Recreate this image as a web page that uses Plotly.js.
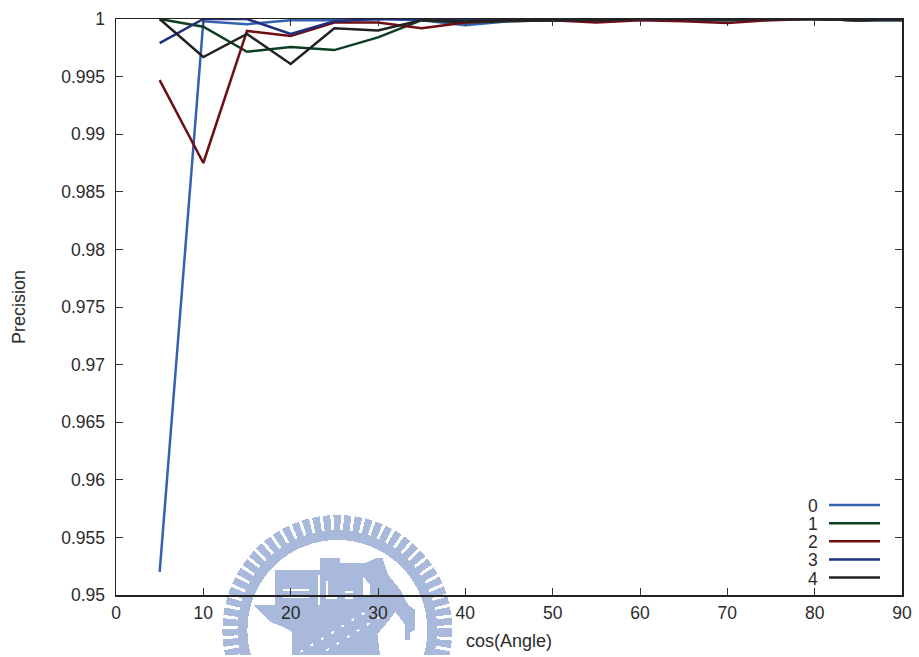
<!DOCTYPE html>
<html>
<head>
<meta charset="utf-8">
<script src="https://cdn.plot.ly/plotly-3.0.1.min.js"></script>
<style>html,body{margin:0;padding:0;background:#fff}</style>
</head>
<body>
<div id="chart" style="width:919px;height:657px"></div>
<script>
const angles = [5,10,15,20,25,30,35,40,45,50,55,60,65,70,75,80,85,90];
const series0 = [0.952,0.9998,0.99955,0.9999,0.9999,1,0.9999,0.99945,0.9998,0.9999,0.9999,1,0.9999,0.9999,1,1,0.9999,0.9999];
const series1 = [1,0.99933,0.99716,0.99757,0.9973,0.9984,0.9999,0.9997,0.9998,0.9999,0.9999,1,1,0.9999,1,1,0.9999,0.9999];
const series2 = [0.9947,0.9875,0.99896,0.99852,0.9997,0.9997,0.9992,0.9997,0.9999,0.9999,0.9997,0.9999,0.9998,0.99965,0.9999,1,0.9999,1];
const series3 = [0.9979,1,1,0.9987,0.9998,1,1,0.9999,1,0.9999,1,1,1,1,1,1,0.9999,1];
const series4 = [1,0.9967,0.9987,0.9961,0.9992,0.999,0.9999,0.9998,0.9999,0.9999,0.9999,1,1,1,1,1,0.9999,1];
const names = ['0','1','2','3','4'];
const colors = ['#3562ae','#0c3f22','#6d0d14','#1f2f7c','#222222'];
const allSeries = [series0,series1,series2,series3,series4];
const xTicks = [0,10,20,30,40,50,60,70,80,90];
const yTicks = [0.95,0.955,0.96,0.965,0.97,0.975,0.98,0.985,0.99,0.995,1];

const W=919,H=657,L=115.5,R=902,T=19,B=595;
const px=v=>(v-L)/(R-L), py=v=>(B-v)/(B-T);
const font={family:'"Liberation Sans",Arial,sans-serif',size:17.5,color:'#2b2b2b'};
const titleFont={family:font.family,size:18,color:font.color};

// decorative seal behind the chart
const wm='#a9b9dc';
const seal=`<svg xmlns="http://www.w3.org/2000/svg" width="240" height="141" viewBox="217 514 240 141" shape-rendering="crispEdges">
<g fill="none" stroke="${wm}">
<circle cx="337" cy="630" r="95" stroke-width="10"/>
<circle cx="337" cy="630" r="107" stroke-width="16" stroke-dasharray="7 3"/>
</g>
<g fill="${wm}">
<path d="M275 570H320V558H340V563H365L376 558H382L388 575L400 590L408 605L415 610V630L410 632V640H405V625L395 612L385 625L377 634L380 657H292V632L285 628L270 622L253 605H275Z"/>
</g>
<g fill="#fff">
<rect x="283" y="589" width="26" height="2"/><rect x="283" y="596" width="26" height="2"/>
<rect x="318" y="575" width="1.5" height="30"/><rect x="326" y="581" width="1.5" height="17"/><rect x="326" y="597" width="11" height="1.5"/>
<rect x="345" y="591" width="8" height="1.5"/><rect x="345" y="597" width="8" height="1.5"/>
<path d="M363 577L370 585V597H363Z"/>
</g>
<g fill="none" stroke="#fff" stroke-width="2" stroke-dasharray="3 9">
<path d="M300 652L372 608"/><path d="M316 657L385 613"/>
</g></svg>`;

const traces=allSeries.map((s,i)=>({x:angles,y:s,name:names[i],type:'scatter',mode:'lines',
  line:{color:colors[i],width:2.5,shape:'linear'},cliponaxis:false,showlegend:false,hoverinfo:'x+y+name'}));

const annotations=names.map((n,i)=>({xref:'paper',yref:'paper',x:px(819),y:py(506+i*18.15),text:n,showarrow:false,
  xanchor:'right',yanchor:'middle',font:font,height:16,valign:'middle',borderpad:0}));
annotations.push({xref:'paper',yref:'paper',x:px(508.5),y:py(641),text:'cos(Angle)',showarrow:false,xanchor:'center',yanchor:'middle',font:titleFont});
annotations.push({xref:'paper',yref:'paper',x:px(18.5),y:py(307),text:'Precision',showarrow:false,textangle:-90,xanchor:'center',yanchor:'middle',font:titleFont});

const shapes=names.map((n,i)=>({type:'line',xref:'paper',yref:'paper',x0:px(829),x1:px(880),y0:py(505+i*18.15),y1:py(505+i*18.15),
  line:{color:colors[i],width:2.5}}));

const layout={
  width:W,height:H,margin:{l:L,r:W-R,t:T,b:H-B},paper_bgcolor:'rgba(0,0,0,0)',plot_bgcolor:'rgba(0,0,0,0)',
  font:font,showlegend:false,
  xaxis:{range:[0,90],tickmode:'array',tickvals:xTicks,ticktext:xTicks.map(String),ticks:'inside',ticklen:7,tickwidth:1,tickcolor:'#333',
    showgrid:false,zeroline:false,showline:true,linecolor:'#222',linewidth:1.5,mirror:'ticks',tickfont:font,ticklabelstandoff:1},
  yaxis:{range:[0.95,1],tickmode:'array',tickvals:yTicks,ticktext:yTicks.map(String),ticks:'inside',ticklen:7,tickwidth:1,tickcolor:'#333',
    showgrid:false,zeroline:false,showline:true,linecolor:'#222',linewidth:1.5,mirror:'ticks',tickfont:font,ticklabelstandoff:6},
  annotations:annotations,shapes:shapes,
  images:[{source:'data:image/svg+xml;charset=utf-8,'+encodeURIComponent(seal),xref:'paper',yref:'paper',
    x:px(217),y:py(514),sizex:240/(R-L),sizey:141/(B-T),xanchor:'left',yanchor:'top',sizing:'stretch',layer:'below'}]
};
Plotly.newPlot('chart',traces,layout,{displayModeBar:false,staticPlot:true});
</script>
</body>
</html>
